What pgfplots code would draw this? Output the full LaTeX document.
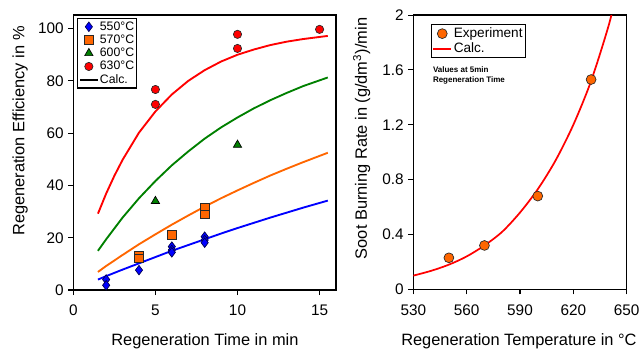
\documentclass[border=0pt]{standalone}
\usepackage{fontspec}
\setmainfont{Liberation Sans}
\usepackage{pgfplots}
\pgfplotsset{compat=1.18}
\definecolor{cblue}{RGB}{0,0,255}
\definecolor{corange}{RGB}{255,102,0}
\definecolor{cgreen}{RGB}{0,128,0}
\definecolor{cred}{RGB}{255,0,0}
\definecolor{cedge}{RGB}{40,40,40}
\begin{document}
\begin{tikzpicture}
\pgfplotsset{
 every axis/.append style={
  scale only axis,
  axis line style={line width=1pt},
  tick align=outside, major tick length=3.75pt,
  tick style={black, line width=0.8pt},
  xtick pos=left, ytick pos=left,
  /pgf/number format/assume math mode=true,
  ticklabel style={font=\fontsize{11.5}{13}\selectfont},
  xticklabel style={yshift=-4pt},
  label style={font=\fontsize{12.3}{14}\selectfont},
  legend cell align=left,
  legend image code/.code={\draw[mark repeat=2,mark phase=2,#1] plot coordinates {(0cm,0cm) (0.235cm,0cm) (0.47cm,0cm)};},
 }
}
\path[use as bounding box] (-55pt,-45pt) rectangle (425.75pt,217.5pt);
\begin{axis}[
  at={(0pt,0pt)}, anchor=south west,
  width=197pt, height=206.25pt,
  xmin=0, xmax=16, ymin=0, ymax=105.2,
  xtick={0,5,10,15}, ytick={0,20,40,60,80,100},
  xlabel={Regeneration Time in min},
  ylabel={Regeneration Efficiency in \%},
  xlabel style={at={(axis description cs:0.501,-0.188)}, anchor=center},
  ylabel style={at={(axis description cs:-0.203,0.578)}, anchor=center},
  legend style={at={(axis description cs:0.015,0.988)}, anchor=north west,
    draw=black, line width=0.8pt, font=\fontsize{9.2}{10}\selectfont,
    inner sep=1pt, row sep=0pt, nodes={inner sep=1pt}},
]
% calculated curves
\addplot[cblue, line width=1.4pt, forget plot] coordinates {
(1.5,4.0)(2,5.3)(3,7.8)(4,10.2)(5,12.6)(6,15.0)(7,17.2)(8,19.4)(9,21.6)(10,23.7)(11,25.7)(12,27.7)(13,29.6)(14,31.5)(15,33.3)(15.5,34.2)};
\addplot[corange, line width=1.4pt, forget plot] coordinates {
(1.5,6.9)(2,9.2)(3,13.4)(4,17.5)(5,21.3)(6,25.0)(7,28.5)(8,31.9)(9,35.1)(10,38.1)(11,41.0)(12,43.8)(13,46.4)(14,48.9)(15,51.3)(15.5,52.5)};
\addplot[cgreen, line width=1.4pt, forget plot] coordinates {
(1.5,15.0)(2,19.4)(3,27.7)(4,35.1)(5,41.7)(6,47.7)(7,53.0)(8,57.9)(9,62.2)(10,66.0)(11,69.5)(12,72.6)(13,75.4)(14,78.0)(15,80.2)(15.5,81.3)};
\addplot[cred, line width=1.4pt, forget plot] coordinates {
(1.5,29.2)(2,36.9)(2.5,43.7)(3,49.8)(4,60.2)(5,68.3)(6,74.8)(7,80.0)(8,84.1)(9,87.4)(10,90.0)(11,92.0)(12,93.7)(13,95.0)(14,96.0)(15,96.8)(15.5,97.2)};
% experiments
\addplot[only marks, mark=diamond*, mark size=3.6pt, mark options={fill=cblue, draw=black!70!cblue, line width=0.5pt}] coordinates {
(2,4.0)(2,1.8)(4,7.6)(6,16.6)(6,15.3)(6,14.4)(8,20.4)(8,19.1)(8,18.1)};
\addlegendentry{550°C}
\addplot[only marks, mark=square*, mark size=3.2pt, mark options={fill=corange, draw=cedge, line width=0.5pt}] coordinates {
(4,13.0)(4,12.2)(6,21.2)(8,31.6)(8,28.9)};
\addlegendentry{570°C}
\addplot[only marks, mark=triangle*, mark size=3.6pt, mark options={fill=cgreen, draw=black, line width=0.5pt}] coordinates {
(5,34.0)(10,55.5)};
\addlegendentry{600°C}
\addplot[only marks, mark=*, mark size=3.1pt, mark options={fill=cred, draw=cedge, line width=0.5pt}] coordinates {
(5,76.7)(5,71.0)(10,97.8)(10,92.4)(15,99.7)};
\addlegendentry{630°C}
\addlegendimage{black, line width=1.2pt}
\addlegendentry{Calc.}
\end{axis}

\begin{axis}[
  at={(255pt,0.5pt)}, anchor=south west,
  width=160pt, height=205.7pt,
  xmin=530, xmax=650, ymin=0, ymax=2,
  xtick={530,560,590,620,650},
  ytick={0,0.4,0.8,1.2,1.6,2},
  yticklabels={0,0.4,0.8,1.2,1.6,2},
  xticklabel style={/pgf/number format/1000 sep={}},
  xlabel={Regeneration Temperature in °C},
  ylabel={Soot Burning Rate in (g/dm\textsuperscript{3})/min},
  xlabel style={at={(axis description cs:0.495,-0.191)}, anchor=center},
  ylabel style={at={(axis description cs:-0.242,0.55)}, anchor=center},
  legend style={at={(axis description cs:0.081,0.967)}, anchor=north west,
    draw=black, line width=0.8pt, font=\fontsize{10.2}{11}\selectfont,
    inner sep=1pt, row sep=0pt, nodes={inner sep=1.3pt}},
]
\addplot[only marks, mark=*, mark size=3.7pt, mark options={fill=corange, draw=cedge, line width=0.5pt}] coordinates {
(550,0.23)(570,0.32)(600,0.68)(630,1.53)};
\addlegendentry{Experiment}
\addplot[cred, line width=1.3pt, smooth] coordinates {
(530,0.10)(540,0.135)(550,0.18)(560,0.24)(570,0.32)(580,0.42)(590,0.56)(600,0.73)(610,0.94)(620,1.20)(630,1.52)(640,1.93)(645,2.2)};
\addlegendentry{Calc.}
\node[anchor=north west, inner sep=0pt, align=left, font=\fontsize{6}{7.5}\selectfont\bfseries] at (rel axis cs:0.091,0.812) {Values at 5min\\Regeneration Time};
\end{axis}
\end{tikzpicture}
\end{document}
